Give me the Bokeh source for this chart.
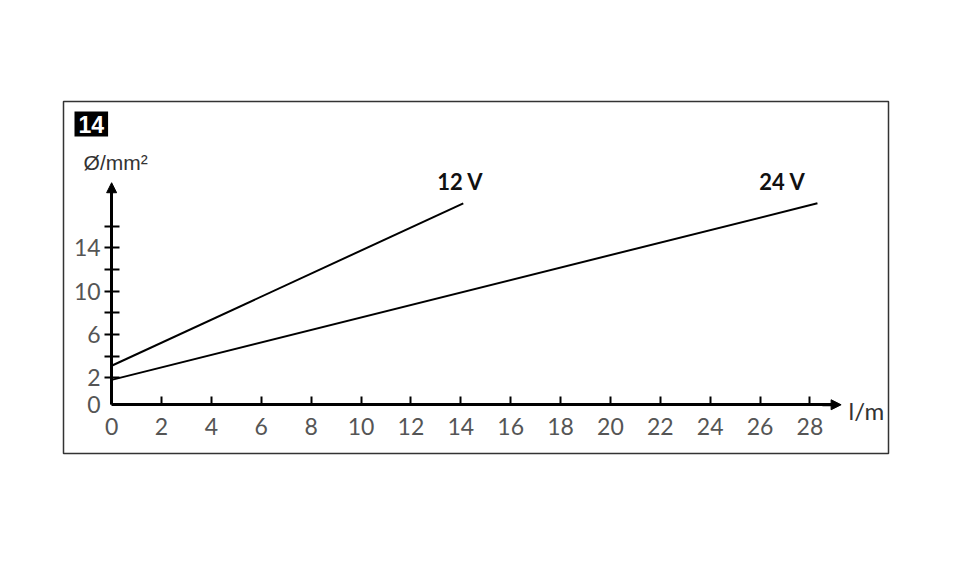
from bokeh.plotting import figure
from bokeh.models import LinearAxis, FixedTicker, Arrow, NormalHead, Label, Range1d
from bokeh.embed import file_html
from bokeh.resources import INLINE

# data
len_12v = [0.0, 14.1]
dia_12v = [3.1, 18.1]
len_24v = [0.0, 28.3]
dia_24v = [1.8, 18.1]
x_ticks = list(range(0, 29, 2))
y_ticks = [2, 4, 6, 8, 10, 12, 14, 16]
y_tick_labels = ["2", "", "6", "", "10", "", "14", ""]
y_origin_label = "0"
series_labels = ["12 V", "24 V"]
x_title = "l/m"
y_title = "Ø/mm²"
fig_number = "14"

Y0 = -0.5  # level of the horizontal axis

p = figure(width=943, height=550, output_backend="svg", toolbar_location=None,
           x_axis_location=None, y_axis_location=None,
           x_range=Range1d(-1.93, 31.15), y_range=Range1d(-5.0, 27.5),
           min_border_left=63, min_border_right=55, min_border_top=101, min_border_bottom=97)
p.grid.visible = False
p.outline_line_color = "#333333"
p.outline_line_width = 1.5
p.background_fill_color = "white"
p.border_fill_color = "white"

TICK_FONT = "Lato"
TICK_COLOR = "#555555"
TICK_SIZE = "23px"

xa = LinearAxis(fixed_location=Y0, ticker=FixedTicker(ticks=x_ticks), bounds=(0, 28.9))
xa.axis_line_width = 3
xa.axis_line_color = "black"
xa.major_tick_in = 8
xa.major_tick_out = 0
xa.major_tick_line_width = 2
xa.minor_tick_line_color = None
xa.major_label_text_font = TICK_FONT
xa.major_label_text_font_size = TICK_SIZE
xa.major_label_text_color = TICK_COLOR
xa.major_label_standoff = 13
p.add_layout(xa, "below")

ya = LinearAxis(fixed_location=0, ticker=FixedTicker(ticks=y_ticks), bounds=(Y0, 19.5),
                major_label_overrides={t: l for t, l in zip(y_ticks, y_tick_labels)})
ya.axis_line_width = 3
ya.axis_line_color = "black"
ya.major_tick_in = 8
ya.major_tick_out = 7
ya.major_tick_line_width = 2
ya.minor_tick_line_color = None
ya.major_label_text_font = TICK_FONT
ya.major_label_text_font_size = TICK_SIZE
ya.major_label_text_color = TICK_COLOR
ya.major_label_standoff = 4
p.add_layout(ya, "left")

p.add_layout(Label(x=0, y=Y0, text=y_origin_label, x_offset=-11, text_align="right",
                   text_baseline="middle", text_font=TICK_FONT, text_font_size=TICK_SIZE,
                   text_color=TICK_COLOR))

p.add_layout(Arrow(end=NormalHead(size=10, fill_color="black", line_color="black"),
                   x_start=28.5, y_start=Y0, x_end=29.25, y_end=Y0, line_width=3))
p.add_layout(Arrow(end=NormalHead(size=10, fill_color="black", line_color="black"),
                   x_start=0, y_start=19.0, x_end=0, y_end=20.0, line_width=3))

p.line(len_12v, dia_12v, line_color="black", line_width=2)
p.line(len_24v, dia_24v, line_color="black", line_width=2)

p.add_layout(Label(x=len_12v[-1], y=dia_12v[-1], text=series_labels[0], x_offset=-3, y_offset=8,
                   text_align="center", text_baseline="bottom", text_font="Lato",
                   text_font_style="bold", text_font_size="22px", text_color="#111111"))
p.add_layout(Label(x=len_24v[-1], y=dia_24v[-1], text=series_labels[1], x_offset=-35, y_offset=8,
                   text_align="center", text_baseline="bottom", text_font="Lato",
                   text_font_style="bold", text_font_size="22px", text_color="#111111"))

p.add_layout(Label(x=29.55, y=Y0, text=x_title, y_offset=-6, text_align="left", text_baseline="middle",
                   text_font=TICK_FONT, text_font_size="24px", text_color="#333333"))
p.add_layout(Label(x=0, y=20.0, text=y_title, y_offset=9, x_offset=4, text_align="center",
                   text_baseline="bottom", text_font="Liberation Sans", text_font_size="21px",
                   text_color="#333333"))

p.add_layout(Label(x=-1.93, y=27.5, text=fig_number, x_offset=11, y_offset=-10,
                   text_align="left", text_baseline="top", text_font="Liberation Sans",
                   text_font_style="bold", text_font_size="23px", text_color="white",
                   background_fill_color="black", padding=4))

open("out.html", "w").write(file_html(p, INLINE))
